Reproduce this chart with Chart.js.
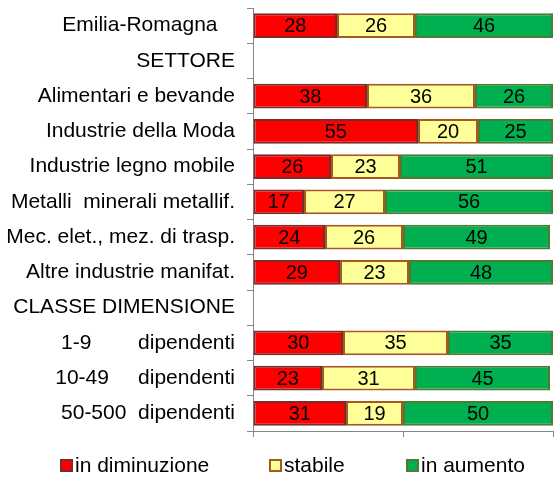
<!DOCTYPE html>
<html>
<head>
<meta charset="utf-8">
<script src="https://cdn.jsdelivr.net/npm/chart.js@4/dist/chart.umd.min.js"></script>
<style>
  body { margin: 0; background: #fff; }
  #wrap { position: relative; width: 555px; height: 477px; }
  #legend {
    position: absolute; top: 453px; left: 0; width: 555px; height: 24px;
    font: 21px "Liberation Sans", Arial, sans-serif; color: #000;
  }
  .item { position: absolute; top: 0; display: flex; align-items: center; height: 24px; }
  .box { width: 9px; height: 9px; border: 2px solid; margin-right: 2px; }
</style>
</head>
<body>
<div id="wrap">
  <canvas id="chart" width="555" height="477"></canvas>
  <div id="legend"></div>
</div>
<script>
const categories = [
  'Emilia-Romagna   ',
  'SETTORE',
  'Alimentari e bevande',
  'Industrie della Moda',
  'Industrie legno mobile',
  'Metalli  minerali metallif.',
  'Mec. elet., mez. di trasp.',
  'Altre industrie manifat.',
  'CLASSE DIMENSIONE',
  '1-9        dipendenti',
  '10-49     dipendenti',
  '50-500  dipendenti'
];
const seriesNames = ['in diminuzione', 'stabile', 'in aumento'];
const inDiminuzione = [28, null, 38, 55, 26, 17, 24, 29, null, 30, 23, 31];
const stabile = [26, null, 36, 20, 23, 27, 26, 23, null, 35, 31, 19];
const inAumento = [46, null, 26, 25, 51, 56, 49, 48, null, 35, 45, 50];
const xTicks = [0, 50, 100];

const fills = ['#ff0000', '#ffff99', '#00b050'];
const borders = ['#7a2c2c', '#a65a1e', '#4f7a34'];
const axisColor = '#868686';
const font = '"Liberation Sans", Arial, sans-serif';

// value labels centered in each segment
const valueLabels = {
  id: 'valueLabels',
  afterDatasetsDraw(chart) {
    const ctx = chart.ctx;
    ctx.save();
    ctx.font = '20px ' + font;
    ctx.fillStyle = '#000';
    ctx.textAlign = 'center';
    ctx.textBaseline = 'middle';
    chart.data.datasets.forEach((ds, i) => {
      chart.getDatasetMeta(i).data.forEach((bar, j) => {
        const v = ds.data[j];
        if (v == null) return;
        ctx.fillText(String(v), (bar.x + bar.base) / 2, bar.y + 1);
      });
    });
    ctx.restore();
  }
};

function makeDataset(label, data, i) {
  return {
    label,
    data,
    backgroundColor: fills[i],
    borderColor: borders[i],
    borderWidth: 2,
    borderSkipped: false,
    barPercentage: 0.78,
    categoryPercentage: 0.9
  };
}

new Chart(document.getElementById('chart'), {
  type: 'bar',
  data: {
    labels: categories,
    datasets: [
      makeDataset(seriesNames[0], inDiminuzione, 0),
      makeDataset(seriesNames[1], stabile, 1),
      makeDataset(seriesNames[2], inAumento, 2)
    ]
  },
  options: {
    indexAxis: 'y',
    responsive: false,
    animation: false,
    layout: { padding: { top: 8, bottom: 40, left: 0, right: 2 } },
    plugins: { legend: { display: false }, tooltip: { enabled: false } },
    scales: {
      x: {
        stacked: true,
        min: xTicks[0],
        max: xTicks[xTicks.length - 1],
        afterBuildTicks: (s) => { s.ticks = xTicks.map((v) => ({ value: v })); },
        afterFit: (s) => { s.height = 6; s.paddingLeft = 0; s.paddingRight = 0; },
        ticks: { display: false },
        border: { color: axisColor, width: 1 },
        grid: { drawOnChartArea: false, drawTicks: true, tickLength: 6, color: axisColor }
      },
      y: {
        stacked: true,
        afterFit: (s) => { s.width = 253; s.paddingTop = 0; s.paddingBottom = 0; },
        ticks: { color: '#000', padding: 12, font: { family: font, size: 21 }, autoSkip: false },
        border: { color: axisColor, width: 1 },
        grid: { drawOnChartArea: false, drawTicks: true, tickLength: 6, color: axisColor }
      }
    }
  },
  plugins: [valueLabels]
});

// legend
const legendPos = [60, 269, 406];
const legend = document.getElementById('legend');
seriesNames.forEach((name, i) => {
  const item = document.createElement('div');
  item.className = 'item';
  item.style.left = legendPos[i] + 'px';
  item.innerHTML = `<span class="box" style="background:${fills[i]};border-color:${borders[i]}"></span><span>${name}</span>`;
  legend.appendChild(item);
});
</script>
</body>
</html>
